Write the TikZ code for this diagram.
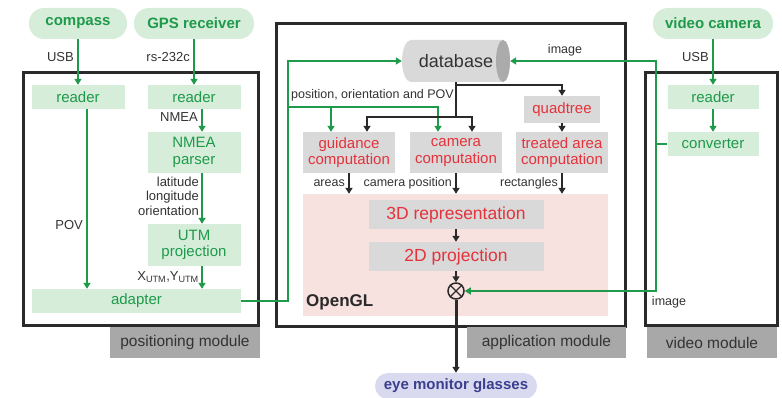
\documentclass[tikz,border=0pt]{standalone}
\usepackage{fontspec}
\setmainfont{Liberation Sans}
\usetikzlibrary{arrows.meta}
\definecolor{srcgreen}{HTML}{1E9A4A}
\definecolor{greenfill}{HTML}{D6EDDA}
\definecolor{compred}{HTML}{E5323B}
\definecolor{compfill}{HTML}{D9D9D9}
\definecolor{dbend}{HTML}{ABABAB}
\definecolor{modgray}{HTML}{A8A8A8}
\definecolor{modframe}{HTML}{2A2A2A}
\definecolor{labelgray}{HTML}{333333}
\definecolor{glfill}{HTML}{F8E2E0}
\definecolor{eyeblue}{HTML}{3B3F8F}
\definecolor{eyefill}{HTML}{D9D9EF}
\tikzset{
  source/.style={fill=greenfill,rounded corners=15pt,text=srcgreen,inner sep=0pt,font=\fontsize{15}{17}\selectfont\bfseries},
  greenbox/.style={fill=greenfill,text=srcgreen,align=center,inner sep=0pt,font=\fontsize{15}{16.5}\selectfont},
  compbox/.style={fill=compfill,text=compred,align=center,inner sep=0pt,font=\fontsize{15}{16.5}\selectfont},
  dbbox/.style={inner sep=0pt,text=labelgray,font=\fontsize{18}{20}\selectfont,
    path picture={
      \fill[compfill] ([xshift=9pt]path picture bounding box.north west) -- ([xshift=-7pt]path picture bounding box.north east)
        arc[start angle=90,end angle=-90,x radius=7pt,y radius=21pt] -- ([xshift=9pt]path picture bounding box.south west)
        arc[start angle=270,end angle=90,x radius=9pt,y radius=21pt] -- cycle;
      \fill[dbend] ([xshift=-7pt]path picture bounding box.east) ellipse[x radius=7pt,y radius=21pt];
    }},
  module/.style={draw=modframe,line width=3pt,fill=white,inner sep=0pt},
  modlabel/.style={fill=modgray,text=labelgray,inner sep=0pt,font=\fontsize{15.5}{17}\selectfont},
  lab/.style={text=labelgray,inner sep=1pt,align=right,font=\fontsize{13}{14.5}\selectfont},
  applab/.style={lab,font=\fontsize{12.5}{14}\selectfont},
  gflow/.style={-{Triangle[length=6pt,width=7pt]},line width=2.6pt,draw=srcgreen},
  gwire/.style={-{Triangle[length=6pt,width=7pt]},line width=1.8pt,draw=srcgreen},
  bflow/.style={-{Triangle[length=6pt,width=7pt]},line width=2.6pt,draw=modframe}
}
\begin{document}
\begin{tikzpicture}[x=1pt,y=-1pt]
  \useasboundingbox (0,0) rectangle (782,398);
  % modules
  \node[module,minimum width=235pt,minimum height=252pt] (posmod) at (140.5,199) {};
  \node[module,minimum width=349pt,minimum height=302pt] (appmod) at (450.5,175) {};
  \node[module,minimum width=132pt,minimum height=252pt] (vidmod) at (711,199) {};
  \node[modlabel,minimum width=150pt,minimum height=31pt] (poslabel) at (185,342.5) {positioning module};
  \node[modlabel,minimum width=159pt,minimum height=31pt] (applabel) at (546.5,342.5) {application module};
  \node[modlabel,minimum width=130pt,minimum height=31pt] (vidlabel) at (712,342.5) {video module};
  % sources and sink
  \node[source,minimum width=98pt,minimum height=31pt] (compass) at (78,23.5) {compass};
  \node[source,minimum width=120pt,minimum height=31pt] (gps) at (194,23.5) {GPS receiver};
  \node[source,minimum width=120pt,minimum height=31pt] (vidcam) at (713,23.5) {video camera};
  \node[source,fill=eyefill,text=eyeblue,rounded corners=13pt,minimum width=162pt,minimum height=26pt] (glasses) at (456,386) {eye monitor glasses};
  % positioning module
  \node[greenbox,minimum width=93pt,minimum height=24pt] (compreader) at (78,97) {reader};
  \node[greenbox,minimum width=93pt,minimum height=24pt] (gpsreader) at (194,97) {reader};
  \node[greenbox,minimum width=93pt,minimum height=41pt] (nmeaparser) at (194,152.5) {NMEA\\parser};
  \node[greenbox,minimum width=93pt,minimum height=42pt] (utmproj) at (194,245) {UTM\\projection};
  \node[greenbox,minimum width=209pt,minimum height=24pt] (adapter) at (136.5,301) {adapter};
  % application module
  \node[dbbox,minimum width=108pt,minimum height=42pt] (database) at (456,61) {database\hspace{12pt}};
  \node[compbox,minimum width=76pt,minimum height=27pt] (quadtree) at (562,109.5) {quadtree};
  \node[compbox,minimum width=92pt,minimum height=41pt] (guidance) at (349,152.5) {guidance\\computation};
  \node[compbox,minimum width=92pt,minimum height=41pt] (camcomp) at (456,152.5) {camera\\computation};
  \node[compbox,minimum width=92pt,minimum height=41pt] (treated) at (562,152.5) {treated area\\computation};
  \node[fill=glfill,minimum width=305pt,minimum height=122pt,inner sep=0pt] (opengl) at (455.5,255) {};
  \node[compbox,minimum width=175pt,minimum height=29pt,font=\fontsize{17.5}{19}\selectfont] (rep3d) at (456,214.5) {3D representation};
  \node[compbox,minimum width=175pt,minimum height=29pt,font=\fontsize{17.5}{19}\selectfont] (proj2d) at (456,256.5) {2D projection};
  \node[anchor=west,inner sep=0pt,text=modframe,font=\fontsize{17}{19}\selectfont\bfseries] (opengllabel) at (306,302) {OpenGL};
  \node[circle,draw=modframe,line width=1.5pt,minimum size=16pt,inner sep=0pt] (mixer) at (456,291) {};
  \draw[line width=1.4pt,draw=modframe] (mixer.north west) -- (mixer.south east) (mixer.north east) -- (mixer.south west);
  % video module
  \node[greenbox,minimum width=91pt,minimum height=24pt] (vidreader) at (713,97) {reader};
  \node[greenbox,minimum width=91pt,minimum height=24pt] (converter) at (713,144) {converter};
  % positioning flows
  \draw[gflow] (compass) -- (compreader);
  \draw[gflow] (gps) -- (gpsreader);
  \draw[gflow] ([xshift=8pt]gpsreader.south) -- ([xshift=8pt]nmeaparser.north);
  \draw[gflow] ([xshift=8pt]nmeaparser.south) -- ([xshift=8pt]utmproj.north);
  \draw[gflow] ([xshift=8pt]utmproj.south) -- ([xshift=8pt]utmproj.south |- adapter.north);
  \draw[gflow] ([xshift=9pt]compreader.south) -- ([xshift=9pt]compreader.south |- adapter.north);
  \node[lab,anchor=east] (usbcomp) at (75,57) {USB};
  \node[lab,anchor=east] (rslabel) at (191,57) {rs-232c};
  \node[lab,anchor=east] (nmealabel) at (199,117) {NMEA};
  \node[lab,anchor=east] (latlabel) at (200,196) {latitude\\longitude\\orientation};
  \node[lab,anchor=east] (povlabel) at (84,225) {POV};
  \node[lab,anchor=east] (utmlabel) at (200,277) {X\textsubscript{UTM},Y\textsubscript{UTM}};
  % position wire
  \coordinate (posbus) at (288,107);
  \draw[gwire] (adapter.east) -| (posbus) |- (database.west);
  \draw[gwire] (posbus) -| ([xshift=-18pt]camcomp.north);
  \draw[gwire] ([xshift=-18pt]guidance.north |- posbus) -- ([xshift=-18pt]guidance.north);
  \node[applab,anchor=west] (povwire) at (290,95) {position, orientation and POV};
  % database flows
  \coordinate (dbfork) at (456,117);
  \draw[bflow] (database.south) -- (dbfork) -| ([xshift=18pt]guidance.north);
  \draw[bflow] (dbfork) -| ([xshift=16pt]camcomp.north);
  \draw[bflow] ([yshift=-3pt]database.south) -| (quadtree.north);
  \draw[bflow] (quadtree) -- (treated);
  \draw[bflow] (guidance.south) -- (guidance.south |- opengl.north);
  \draw[bflow] (camcomp.south) -- (camcomp.south |- opengl.north);
  \draw[bflow] (treated.south) -- (treated.south |- opengl.north);
  \node[applab,anchor=east] (areaslabel) at (346,183) {areas};
  \node[applab,anchor=east] (camposlabel) at (453,183) {camera position};
  \node[applab,anchor=east] (rectlabel) at (559,183) {rectangles};
  \draw[bflow] (rep3d) -- (proj2d);
  \draw[bflow] (proj2d) -- (mixer);
  \draw[bflow,line width=3pt] (mixer) -- (glasses);
  % video flows
  \draw[gflow] (vidcam) -- (vidreader);
  \draw[gflow] (vidreader) -- (converter);
  \node[lab,anchor=east] (usbvid) at (710,57) {USB};
  \coordinate (vidbus) at (656,144);
  \draw[gwire,-] (converter.west) -- (vidbus);
  \draw[gwire] (vidbus) |- (database.east);
  \draw[gwire] (vidbus) |- (mixer.east);
  \node[applab] (imgtop) at (565,50) {image};
  \node[applab] (imgbot) at (669,302) {image};
\end{tikzpicture}
\end{document}
